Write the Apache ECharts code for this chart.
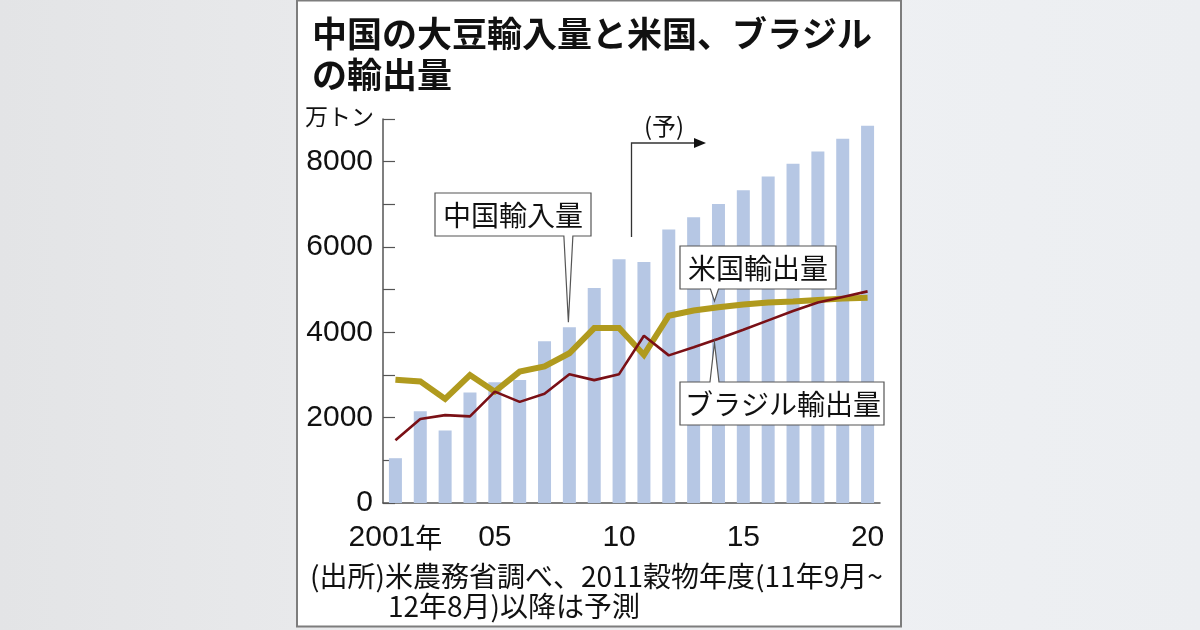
<!DOCTYPE html>
<html>
<head>
<meta charset="utf-8">
<script src="https://cdn.jsdelivr.net/npm/echarts@6/dist/echarts.min.js"></script>
<style>
html,body{margin:0;padding:0;width:1200px;height:630px;overflow:hidden;
  background:linear-gradient(90deg,#e3e4e6 0%,#eaebed 35%,#eef0f3 70%,#eceef1 100%);}
#chart{position:absolute;left:0;top:0;width:1200px;height:630px;}
</style>
</head>
<body>
<div id="chart"></div>
<script>
// ---- data ----
const years = [2001,2002,2003,2004,2005,2006,2007,2008,2009,2010,2011,2012,2013,2014,2015,2016,2017,2018,2019,2020];
const xTickLabels = ['2001年','','','','05','','','','','10','','','','','15','','','','','20'];
const yTickLabels = ['0','','2000','','4000','','6000','','8000',''];
const chinaImports  = [1050,2150,1700,2590,2830,2880,3790,4120,5040,5710,5650,6410,6700,7010,7330,7650,7950,8240,8540,8840];
const usExports     = [2890,2850,2440,3000,2610,3080,3200,3510,4100,4100,3470,4390,4510,4590,4650,4700,4720,4760,4790,4810];
const brazilExports = [1470,1970,2060,2030,2610,2370,2560,3020,2880,3020,3920,3460,3650,3850,4060,4280,4500,4700,4830,4960];

const titleText = '中国の大豆輸入量と米国、ブラジル\nの輸出量';
const unitText = '万トン';
const forecastText = '(予)';
const chinaLabel = '中国輸入量';
const usLabel = '米国輸出量';
const brazilLabel = 'ブラジル輸出量';
const note1 = '(出所)米農務省調べ、2011穀物年度(11年9月~';
const note2 = '12年8月)以降は予測';

const JP = '"Noto Sans CJK JP", sans-serif';
const NUM = '"Liberation Sans", Arial, sans-serif';

const chart = echarts.init(document.getElementById('chart'), null, {renderer:'canvas'});

const baseOption = {
  animation: false,
  backgroundColor: 'transparent',
  title: {
    text: titleText, left: 307, top: 8,
    textStyle: {fontFamily: JP, fontSize: 35, fontWeight: 'bold', color: '#111', lineHeight: 41}
  },
  grid: {left: 383, right: 320, top: 119, bottom: 127, containLabel: false},
  xAxis: {
    type: 'category', data: years,
    axisLine: {lineStyle: {color: '#555', width: 1.5}},
    axisTick: {show: false},
    axisLabel: {interval: 0, margin: 20, color: '#111', fontFamily: NUM, fontSize: 30,
      formatter: (v, i) => {
        const t = xTickLabels[i];
        if (!t) return '';
        const m = t.match(/^(\d+)(.*)$/);
        return m[2] ? '{n|' + m[1] + '}{k|' + m[2] + '}' : '{n|' + m[1] + '}';
      },
      rich: {
        n: {fontFamily: NUM, fontSize: 30, color: '#111'},
        k: {fontFamily: JP, fontSize: 27, color: '#111'}
      }
    }
  },
  yAxis: {
    type: 'value', min: 0, max: 9000, interval: 1000,
    axisLine: {show: true, lineStyle: {color: '#555', width: 1.5}},
    axisTick: {show: true, inside: true, length: 12, lineStyle: {color: '#555', width: 1.2}},
    splitLine: {show: false},
    axisLabel: {margin: 10, color: '#111', fontFamily: NUM, fontSize: 30, padding: [6, 0, 0, 0],
      formatter: v => yTickLabels[Math.round(v/1000)]}
  },
  series: [
    {name: chinaLabel, type: 'bar', data: chinaImports, barWidth: 13,
      itemStyle: {color: '#b6c7e4'}, z: 1},
    {name: usLabel, type: 'line', data: usExports, symbol: 'none',
      lineStyle: {color: '#b09a1e', width: 6, join: 'miter'}, z: 3},
    {name: brazilLabel, type: 'line', data: brazilExports, symbol: 'none',
      lineStyle: {color: '#7a1016', width: 2.6}, z: 4}
  ]
};
chart.setOption(baseOption);

const P = (i, v) => chart.convertToPixel({xAxisIndex: 0, yAxisIndex: 0}, [i, v]);

function calloutDown(x0, y0, x1, y1, tip, bw) {
  return [[x0,y0],[x1,y0],[x1,y1],[tip[0]+bw,y1],tip,[tip[0]-bw,y1],[x0,y1]];
}
function calloutUp(x0, y0, x1, y1, tip, bw) {
  return [[x0,y0],[tip[0]-bw,y0],tip,[tip[0]+bw,y0],[x1,y0],[x1,y1],[x0,y1]];
}

const iChina = years.indexOf(2008);
const iLab = years.indexOf(2014);
const pChina = P(iChina, chinaImports[iChina]);
const pUS = P(iLab, usExports[iLab]);
const pBR = P(iLab, brazilExports[iLab]);
const xa = P(years.indexOf(2010), 0)[0], xb = P(years.indexOf(2011), 0)[0];
const xSplit = (xa + xb) / 2;

const cStroke = '#555';
const graphics = [
  {type: 'rect', z: -100, shape: {x: 297, y: 0.5, width: 604, height: 626},
    style: {fill: '#fff', stroke: '#7d7d7d', lineWidth: 2}},
  {type: 'text', z: 100, style: {text: unitText, x: 305, y: 116, fontFamily: JP, fontSize: 23,
    fill: '#111', verticalAlign: 'middle'}},
  // forecast arrow
  {type: 'polyline', z: 100, shape: {points: [[xSplit, 237], [xSplit, 143], [696, 143]]},
    style: {stroke: '#333', lineWidth: 1.3, fill: null}},
  {type: 'polygon', z: 100, shape: {points: [[694, 138], [706, 143], [694, 148]]},
    style: {fill: '#111'}},
  {type: 'text', z: 100, style: {text: forecastText, x: 664, y: 126, fontFamily: JP, fontSize: 24,
    fill: '#111', align: 'center', verticalAlign: 'middle'}},
  // China callout
  {type: 'polygon', z: 100, shape: {points: calloutDown(435, 193, 591, 236, [pChina[0]-1, pChina[1]-5], 4.5)},
    style: {fill: '#fff', stroke: cStroke, lineWidth: 1.2}},
  {type: 'text', z: 101, style: {text: chinaLabel, x: 513, y: 215, fontFamily: JP, fontSize: 28,
    fill: '#111', align: 'center', verticalAlign: 'middle'}},
  // US callout
  {type: 'polygon', z: 100, shape: {points: calloutDown(680, 246, 836, 289, [pUS[0]-4, pUS[1]-6], 4)},
    style: {fill: '#fff', stroke: cStroke, lineWidth: 1.2}},
  {type: 'text', z: 101, style: {text: usLabel, x: 758, y: 268, fontFamily: JP, fontSize: 28,
    fill: '#111', align: 'center', verticalAlign: 'middle'}},
  // Brazil callout
  {type: 'polygon', z: 100, shape: {points: calloutUp(680, 382, 884, 425, [pBR[0]-4, pBR[1]+4], 4.5)},
    style: {fill: '#fff', stroke: cStroke, lineWidth: 1.2}},
  {type: 'text', z: 101, style: {text: brazilLabel, x: 783, y: 404, fontFamily: JP, fontSize: 28,
    fill: '#111', align: 'center', verticalAlign: 'middle'}},
  // footnote
  {type: 'text', z: 100, style: {text: note1, x: 310, y: 576, fontFamily: JP, fontSize: 28,
    fill: '#111', verticalAlign: 'middle'}},
  {type: 'text', z: 100, style: {text: note2, x: 388, y: 606, fontFamily: JP, fontSize: 28,
    fill: '#111', verticalAlign: 'middle'}}
];
chart.setOption({graphic: {elements: graphics}});
</script>
</body>
</html>
